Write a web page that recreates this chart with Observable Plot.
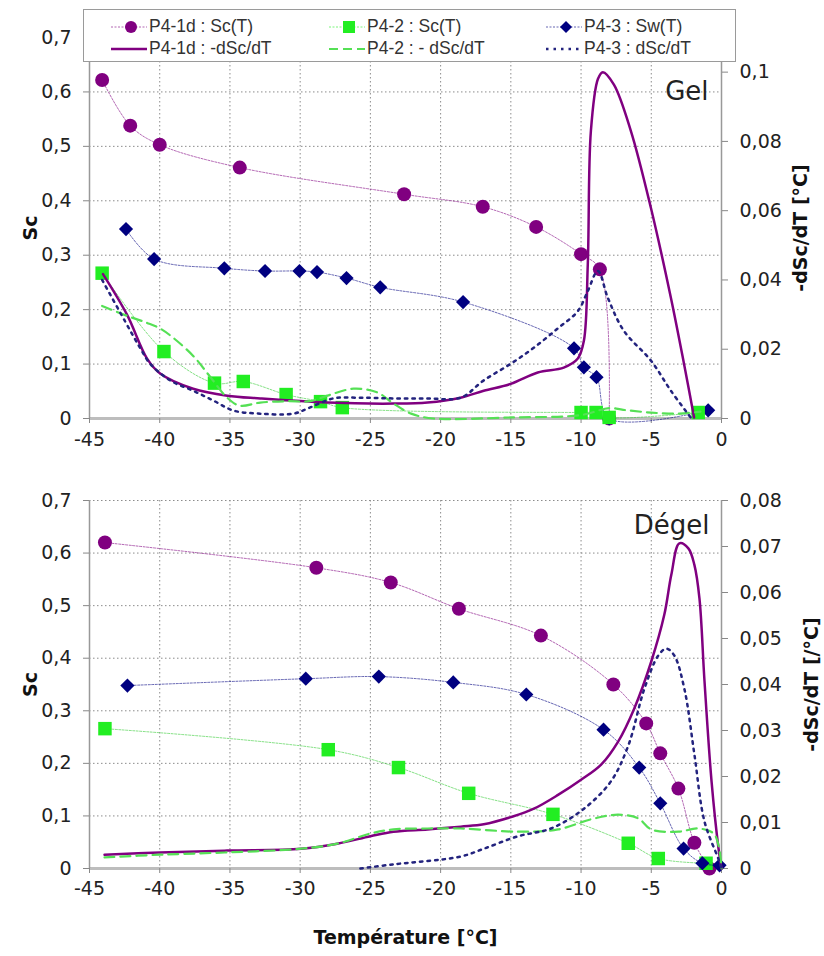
<!DOCTYPE html>
<html><head><meta charset="utf-8">
<script src="https://cdn.jsdelivr.net/npm/d3@7"></script>
<script src="https://cdn.jsdelivr.net/npm/@observablehq/plot@0.6"></script>
<style>
body{margin:0;background:#fff;font-family:"DejaVu Sans",sans-serif;}
#wrap{position:relative;width:824px;height:956px;overflow:hidden;}
#top,#bottom{position:absolute;left:0;}
#top{top:0px}
#bottom{top:460px}
#legend{position:absolute;left:83px;top:9px;width:653px;height:53px;border:1px solid #9a9a9a;background:#fff;box-sizing:border-box;}
.li{position:absolute;display:flex;align-items:center;font-family:"Liberation Sans",Arial,sans-serif;font-size:17.5px;color:#333;white-space:pre;}
.li svg{margin-right:2px;}
</style>
</head><body>
<div id="wrap"><div id="top"></div><div id="bottom"></div><div id="legend"></div></div>
<script>
// ---------- data ----------
const X_TICKS = [-45,-40,-35,-30,-25,-20,-15,-10,-5,0];
const LEFT_TICKS = [0,0.1,0.2,0.3,0.4,0.5,0.6,0.7];
const RIGHT_TICKS_GEL = [0,0.02,0.04,0.06,0.08,0.1];
const RIGHT_TICKS_DEGEL = [0,0.01,0.02,0.03,0.04,0.05,0.06,0.07,0.08];
const LEGEND_LABELS = ["P4-1d : Sc(T)","P4-2 : Sc(T)","P4-3 : Sw(T)","P4-1d : -dSc/dT","P4-2 : - dSc/dT","P4-3 : dSc/dT"];

// Gel - Sc (left axis)
const GEL_1D_T  = [-44.1,-42.1,-40.0,-34.3,-22.6,-17.0,-13.2,-10.0,-8.66,-8.0];
const GEL_1D_SC = [0.622,0.538,0.503,0.461,0.412,0.389,0.352,0.302,0.274,0.0];
const GEL_2_T   = [-44.1,-39.7,-36.1,-34.05,-31.0,-28.55,-27.0,-10.0,-8.93,-8.0,-1.66];
const GEL_2_SC  = [0.267,0.123,0.065,0.068,0.044,0.031,0.020,0.011,0.011,0.002,0.011];
const GEL_3_T   = [-42.4,-40.4,-35.4,-32.5,-30.05,-28.8,-26.7,-24.3,-18.4,-10.5,-9.8,-8.9,-8.0,-0.95];
const GEL_3_SW  = [0.348,0.293,0.276,0.271,0.271,0.269,0.258,0.241,0.214,0.129,0.094,0.076,0.0,0.015];
// Gel - derivatives (right axis)
const GEL_1D_DT = [-44.04,-42.33,-40.9,-39.97,-37.62,-35.19,-32.84,-28.06,-23.35,-20.93,-18.58,-16.93,-15.01,-13.08,-11.23,-10.23,-9.8,-9.52,-9.3,-8.8,-8.45,-7.66,-6.45,-5.02,-3.6,-2.67,-1.95];
const GEL_1D_D  = [0.0417,0.030,0.0173,0.013,0.0086,0.0066,0.0058,0.0046,0.0043,0.0046,0.006,0.008,0.010,0.0133,0.0147,0.0173,0.0224,0.0446,0.083,0.098,0.100,0.0964,0.083,0.0607,0.0348,0.0158,0.0003];
const GEL_2_DT  = [-44.1,-42.3,-40.9,-39.97,-39.04,-37.6,-36.4,-35.2,-34.3,-32.84,-30.9,-29.3,-28.06,-26.2,-24.5,-23.35,-22.1,-20.5,-15,-10,-8,-7,-5,-3,-1.5];
const GEL_2_D   = [0.0325,0.0296,0.0276,0.026,0.0233,0.018,0.012,0.006,0.0037,0.0046,0.005,0.005,0.0066,0.0086,0.0075,0.0043,0.0014,0.0,0.0003,0.001,0.003,0.0025,0.0017,0.0014,0.002];
const GEL_3_DT  = [-44.1,-42.46,-41.4,-40.68,-39.26,-37.62,-36.19,-34.76,-32.84,-30.49,-29.28,-27.64,-25.71,-23.35,-20.93,-18.58,-16.93,-15.01,-13.37,-11.66,-10.23,-9.52,-8.8,-8.09,-6.95,-5.02,-3.6,-2.14];
const GEL_3_D   = [0.040,0.028,0.0204,0.0158,0.011,0.008,0.0052,0.0023,0.0014,0.0014,0.0032,0.0058,0.006,0.0058,0.0058,0.006,0.011,0.0158,0.0204,0.026,0.031,0.0368,0.0426,0.0348,0.0253,0.0167,0.008,0.0];

// Dégel - Sc (left axis)
const DEG_1D_T  = [-43.9,-28.85,-23.55,-18.7,-12.86,-7.7,-5.36,-4.36,-3.07,-1.93,-0.86];
const DEG_1D_SC = [0.62,0.572,0.544,0.494,0.443,0.35,0.276,0.219,0.152,0.049,0.0];
const DEG_2_T   = [-43.9,-28.0,-23.0,-18.0,-12.0,-6.64,-4.5,-1.1];
const DEG_2_SC  = [0.266,0.226,0.192,0.143,0.103,0.048,0.019,0.01];
const DEG_3_T   = [-42.3,-29.6,-24.4,-19.1,-13.9,-8.4,-5.86,-4.36,-2.7,-1.36,-0.14];
const DEG_3_SW  = [0.348,0.361,0.365,0.354,0.331,0.264,0.192,0.124,0.038,0.01,0.006];
// Dégel - derivatives (right axis)
const DEG_1D_DT = [-43.93,-40.0,-35.2,-29.93,-27.36,-25.0,-23.36,-20.93,-18.57,-16.93,-14.86,-13.36,-11.64,-10.0,-8.57,-7.36,-6.21,-5.0,-4.07,-3.57,-3.0,-2.36,-1.93,-1.57,-1.21,-0.71,-0.21,0];
const DEG_1D_D  = [0.003,0.0035,0.0039,0.0043,0.0054,0.007,0.008,0.0085,0.0091,0.0096,0.0113,0.013,0.016,0.0193,0.0226,0.0276,0.0348,0.045,0.0552,0.0639,0.0707,0.0696,0.066,0.0587,0.0407,0.019,0.0043,0];
const DEG_2_DT  = [-43.93,-40.0,-35.2,-29.93,-27.36,-25.0,-23.36,-20.93,-18.57,-14.5,-11.64,-9.29,-7.36,-5.93,-5.0,-3.07,-1.64,-0.5,0];
const DEG_2_D   = [0.0024,0.003,0.0035,0.0043,0.0054,0.0076,0.0085,0.0087,0.0087,0.008,0.0085,0.0107,0.0117,0.0109,0.0085,0.008,0.0087,0.0074,0];
const DEG_3_DT  = [-25.71,-23.36,-18.57,-16.93,-14.5,-12.14,-9.79,-7.86,-6.64,-5.5,-4.5,-3.93,-3.36,-2.64,-1.93,-1.21,-0.21,0];
const DEG_3_D   = [0,0.0009,0.0026,0.0043,0.007,0.0087,0.013,0.019,0.0267,0.039,0.0463,0.0478,0.0463,0.039,0.0248,0.0102,0.002,0];

// ---------- styles ----------
const PURPLE = "#800080", GREEN = "#22ee22", NAVY = "#000080";
const GREEN_LINE = "#55e055", NAVY_LINE = "#23237e";

const fmt = d => String(+(+d).toFixed(3)).replace(".", ",");
const pts = (T, V, k = 1) => T.map((t, i) => ({T: t, v: V[i] * k}));

function panel(o) {
  const k = 0.7 / o.rMax;
  const grid = {stroke: "#8c8c8c", strokeOpacity: 1, strokeDasharray: "1.5,2.5"};
  const thin = c => ({x: "T", y: "v", stroke: c, strokeWidth: 1, strokeOpacity: 0.6, strokeDasharray: "2,1.5", curve: "catmull-rom"});
  const series = {
    p: [Plot.line(pts(o.s1T, o.s1V), thin(PURPLE)),
        Plot.dot(pts(o.s1T, o.s1V), {x: "T", y: "v", r: 7, fill: PURPLE, symbol: "circle"})],
    g: [Plot.line(pts(o.s2T, o.s2V), thin("#33cc33")),
        Plot.dot(pts(o.s2T, o.s2V), {x: "T", y: "v", r: 7.6, fill: GREEN, symbol: "square"})],
    n: [Plot.line(pts(o.s3T, o.s3V), thin(NAVY)),
        Plot.dot(pts(o.s3T, o.s3V), {x: "T", y: "v", r: 6.4, fill: NAVY, symbol: "diamond2"})]
  };
  return Plot.plot({
    width: 824, height: o.height,
    marginTop: o.mt, marginBottom: o.mb, marginLeft: 89, marginRight: 103,
    x: {domain: [-45, 0], axis: null},
    y: {domain: [0, 0.7], axis: null},
    style: {fontFamily: "'DejaVu Sans', sans-serif", fontSize: "19px", color: "#222", background: "transparent", overflow: "visible"},
    marks: [
      Plot.gridX(X_TICKS, grid),
      Plot.gridY(LEFT_TICKS, grid),
      Plot.ruleY([0], {stroke: "#bdbdbd", strokeWidth: 3}),
      Plot.ruleX([-45], {stroke: "#999", strokeWidth: 1.5}),
      Plot.ruleX([0], {stroke: "#999", strokeWidth: 1.5}),
      Plot.axisY(LEFT_TICKS, {anchor: "left", tickSize: 6, tickPadding: 12, tickFormat: fmt, stroke: "#888", fill: "#222", label: null}),
      Plot.axisY(o.rTicks, {anchor: "right", y: d => d * k, text: d => fmt(d), tickSize: 6, tickPadding: 12, stroke: "#888", fill: "#222", label: null}),
      Plot.axisX(X_TICKS, {anchor: "bottom", tickSize: 5, tickPadding: o.xPad, tickFormat: d => String(d), stroke: "#888", fill: "#222", label: null}),
      Plot.text(["Sc"], {text: d => d, frameAnchor: "left", dx: -59, rotate: -90, textAnchor: "middle", fontWeight: "bold", fontSize: 19, fill: "#111"}),
      Plot.text([o.rTitle], {text: d => d, frameAnchor: "right", dx: o.rTitleDx, rotate: -90, textAnchor: "middle", fontWeight: "bold", fontSize: 19, fill: "#111"}),
      Plot.text([o.name], {text: d => d, frameAnchor: "top-right", dx: o.nameDx, dy: o.nameDy, textAnchor: "end", fontSize: 26, fill: "#222"}),
      ...o.order.flatMap(s => series[s]),
      Plot.line(pts(o.d1T, o.d1V, k), {x: "T", y: "v", stroke: PURPLE, strokeWidth: 2.5, curve: "catmull-rom"}),
      Plot.line(pts(o.d2T, o.d2V, k), {x: "T", y: "v", stroke: GREEN_LINE, strokeWidth: 2.2, strokeDasharray: "10,6", curve: "catmull-rom"}),
      Plot.line(pts(o.d3T, o.d3V, k), {x: "T", y: "v", stroke: NAVY_LINE, strokeWidth: 2.5, strokeDasharray: "2.5,5", curve: "catmull-rom"}),
      ...(o.xTitle ? [Plot.text([o.xTitle], {text: d => d, frameAnchor: "bottom", dy: 75, fontWeight: "bold", fontSize: 19, fill: "#111"})] : [])
    ]
  });
}

document.getElementById("top").append(panel({
  height: 460, mt: 37, mb: 42, xPad: 9, rMax: 0.11, rTicks: RIGHT_TICKS_GEL,
  rTitle: "-dSc/dT [°C]", rTitleDx: 79, name: "Gel", nameDx: -13, nameDy: 44,
  order: ["p", "n", "g"],
  s1T: GEL_1D_T, s1V: GEL_1D_SC, s2T: GEL_2_T, s2V: GEL_2_SC, s3T: GEL_3_T, s3V: GEL_3_SW,
  d1T: GEL_1D_DT, d1V: GEL_1D_D, d2T: GEL_2_DT, d2V: GEL_2_D, d3T: GEL_3_DT, d3V: GEL_3_D
}));
document.getElementById("bottom").append(panel({
  height: 496, mt: 40, mb: 88, xPad: 8, rMax: 0.08, rTicks: RIGHT_TICKS_DEGEL,
  rTitle: "-dSc/dT [/°C]", rTitleDx: 90, name: "Dégel", nameDx: -12, nameDy: 15,
  order: ["p", "g", "n"], xTitle: "Température [°C]",
  s1T: DEG_1D_T, s1V: DEG_1D_SC, s2T: DEG_2_T, s2V: DEG_2_SC, s3T: DEG_3_T, s3V: DEG_3_SW,
  d1T: DEG_1D_DT, d1V: DEG_1D_D, d2T: DEG_2_DT, d2V: DEG_2_D, d3T: DEG_3_DT, d3V: DEG_3_D
}));

// ---------- legend ----------
const LEGEND_SYMBOLS = [
  {color: PURPLE, marker: "circle"}, {color: GREEN, marker: "square"}, {color: NAVY, marker: "diamond"},
  {color: PURPLE, width: 2.5, dash: null}, {color: GREEN_LINE, width: 2.2, dash: "9,5"}, {color: NAVY_LINE, width: 2.5, dash: "2.5,5"}
];
const LEGEND_POS = [[27, 6], [245, 6], [462, 6], [27, 28], [245, 28], [462, 28]];
const leg = document.getElementById("legend");
LEGEND_LABELS.forEach((label, i) => {
  const s = LEGEND_SYMBOLS[i];
  let inner;
  if (s.marker) {
    const c = s.color;
    const m = s.marker === "circle" ? `<circle cx="20" cy="10" r="6" fill="${c}"/>`
      : s.marker === "square" ? `<rect x="14" y="4" width="12" height="12" fill="${c}"/>`
      : `<path d="M20 4 L26 10 L20 16 L14 10 Z" fill="${c}"/>`;
    inner = `<line x1="0" y1="10" x2="36" y2="10" stroke="${c}" stroke-width="1" stroke-opacity="0.6" stroke-dasharray="2,1.5"/>${m}`;
  } else {
    inner = `<line x1="0" y1="10" x2="36" y2="10" stroke="${s.color}" stroke-width="${s.width}" ${s.dash ? `stroke-dasharray="${s.dash}"` : ""}/>`;
  }
  const div = document.createElement("div");
  div.className = "li";
  div.style.left = LEGEND_POS[i][0] + "px";
  div.style.top = LEGEND_POS[i][1] + "px";
  div.innerHTML = `<svg width="36" height="20">${inner}</svg><span>${label}</span>`;
  leg.append(div);
});
</script>
</body></html>
